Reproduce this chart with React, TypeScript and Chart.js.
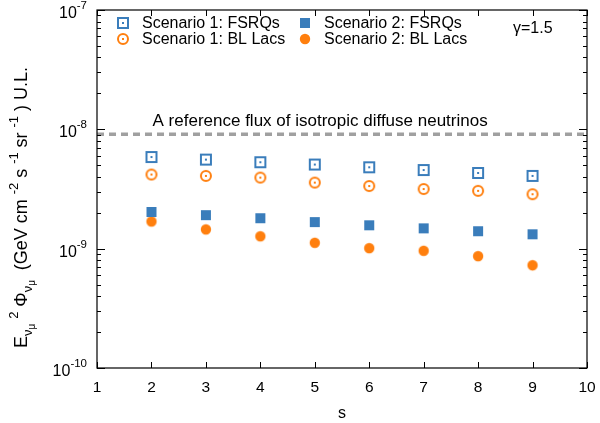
import React, { useEffect, useRef } from "react";
import { Chart, registerables } from "chart.js";

Chart.register(...registerables);

const sValues = [2, 3, 4, 5, 6, 7, 8, 9];
const s1Fsrqs = [5.86e-9, 5.58e-9, 5.3e-9, 5.07e-9, 4.81e-9, 4.56e-9, 4.31e-9, 4.07e-9];
const s1BlLacs = [4.18e-9, 4.07e-9, 3.94e-9, 3.58e-9, 3.35e-9, 3.16e-9, 3.05e-9, 2.86e-9];
const s2Fsrqs = [2.03e-9, 1.91e-9, 1.8e-9, 1.67e-9, 1.57e-9, 1.48e-9, 1.4e-9, 1.32e-9];
const s2BlLacs = [1.69e-9, 1.45e-9, 1.27e-9, 1.12e-9, 1.01e-9, 0.96e-9, 0.865e-9, 0.727e-9];
const s2BlLacsErrLow = [null, null, null, null, null, null, null, 0.66e-9];
const s2BlLacsErrHigh = [null, null, null, null, null, null, null, 0.79e-9];
const refFlux = 9.1e-9;
const refLabel = "A reference flux of isotropic diffuse neutrinos";
const xTicks = [1, 2, 3, 4, 5, 6, 7, 8, 9, 10];
const yDecades = [-10, -9, -8, -7];
const legendLabels = [
  "Scenario 1: FSRQs",
  "Scenario 1: BL Lacs",
  "Scenario 2: FSRQs",
  "Scenario 2: BL Lacs",
];
const gammaLabel = "γ=1.5";

const BLUE = "#3a7dbb";
const ORANGE = "#ff7f0e";
const FONT = "'Liberation Sans', Arial, sans-serif";

function makeMarker(kind: string): HTMLCanvasElement {
  const c = document.createElement("canvas");
  const size = 14;
  c.width = size;
  c.height = size;
  const g = c.getContext("2d")!;
  const m = size / 2;
  if (kind === "openSquare") {
    g.strokeStyle = BLUE;
    g.lineWidth = 2;
    g.strokeRect(2, 2, 10, 10);
    g.fillStyle = BLUE;
    g.fillRect(m - 1, m - 1, 2, 2);
  } else if (kind === "openCircle") {
    g.strokeStyle = ORANGE;
    g.lineWidth = 2;
    g.beginPath();
    g.arc(m, m, 5, 0, Math.PI * 2);
    g.stroke();
    g.fillStyle = ORANGE;
    g.fillRect(m - 1, m - 1, 2, 2);
  } else if (kind === "filledSquare") {
    g.fillStyle = BLUE;
    g.fillRect(2, 2, 10, 10);
  } else {
    g.fillStyle = ORANGE;
    g.beginPath();
    g.arc(m, m, 5.2, 0, Math.PI * 2);
    g.fill();
  }
  return c;
}

export default function App() {
  const ref = useRef<HTMLCanvasElement | null>(null);

  useEffect(() => {
    const canvas = ref.current;
    if (!canvas) return;
    const markers = {
      openSquare: makeMarker("openSquare"),
      openCircle: makeMarker("openCircle"),
      filledSquare: makeMarker("filledSquare"),
      filledCircle: makeMarker("filledCircle"),
    };

    const decorPlugin = {
      id: "decor",
      beforeDatasetsDraw(chart: any) {
        const ctx = chart.ctx;
        const x = chart.scales.x;
        const y = chart.scales.y;
        ctx.save();
        ctx.fillStyle = "#000";
        ctx.font = `17px ${FONT}`;
        ctx.textAlign = "left";
        ctx.textBaseline = "alphabetic";
        ctx.fillText(refLabel, x.getPixelForValue(2.02), y.getPixelForValue(refFlux) - 8);
        ctx.restore();
      },
      afterDatasetsDraw(chart: any) {
        const ctx = chart.ctx;
        const x = chart.scales.x;
        const y = chart.scales.y;
        const a = chart.chartArea;
        ctx.save();
        // error bars
        ctx.strokeStyle = ORANGE;
        ctx.lineWidth = 1.5;
        sValues.forEach((s, i) => {
          const lo = s2BlLacsErrLow[i];
          const hi = s2BlLacsErrHigh[i];
          if (lo == null || hi == null) return;
          const px = x.getPixelForValue(s);
          ctx.beginPath();
          ctx.moveTo(px, y.getPixelForValue(lo));
          ctx.lineTo(px, y.getPixelForValue(hi));
          ctx.stroke();
        });
        // frame
        ctx.strokeStyle = "#000";
        ctx.lineWidth = 1.2;
        ctx.strokeRect(a.left, a.top, a.right - a.left, a.bottom - a.top);
        // x ticks inward
        ctx.lineWidth = 1;
        xTicks.forEach((v) => {
          const px = Math.round(x.getPixelForValue(v)) + 0.5;
          ctx.beginPath();
          ctx.moveTo(px, a.bottom);
          ctx.lineTo(px, a.bottom - 6);
          ctx.moveTo(px, a.top);
          ctx.lineTo(px, a.top + 6);
          ctx.stroke();
        });
        // y ticks inward
        yDecades.forEach((d) => {
          for (let k = 1; k <= 9; k++) {
            if (d === -7 && k > 1) break;
            const v = k * Math.pow(10, d);
            const py = Math.round(y.getPixelForValue(v)) + 0.5;
            const len = k === 1 ? 8 : 4;
            ctx.beginPath();
            ctx.moveTo(a.left, py);
            ctx.lineTo(a.left + len, py);
            ctx.moveTo(a.right, py);
            ctx.lineTo(a.right - len, py);
            ctx.stroke();
          }
        });
        // y tick labels with superscripts
        ctx.fillStyle = "#000";
        ctx.textBaseline = "alphabetic";
        yDecades.forEach((d) => {
          const py = y.getPixelForValue(Math.pow(10, d));
          const sup = String(d);
          ctx.font = `11.5px ${FONT}`;
          const wSup = ctx.measureText(sup).width;
          ctx.font = `16px ${FONT}`;
          const wBase = ctx.measureText("10").width;
          const right = 87;
          ctx.textAlign = "left";
          ctx.fillText("10", right - wSup - wBase, py + 8);
          ctx.font = `11.5px ${FONT}`;
          ctx.fillText(sup, right - wSup, py - 1);
        });
        // y axis title
        type Seg = { t: string; size: number; dy: number; gap: boolean };
        const segs: Seg[] = [
          { t: "E", size: 18, dy: 0, gap: false },
          { t: "ν", size: 13, dy: 5, gap: false },
          { t: "μ", size: 10, dy: 8, gap: true },
          { t: "2", size: 13, dy: -9, gap: true },
          { t: "Φ", size: 18, dy: 0, gap: false },
          { t: "ν", size: 13, dy: 5, gap: false },
          { t: "μ", size: 10, dy: 8, gap: true },
          { t: " (GeV cm", size: 18, dy: 0, gap: true },
          { t: "-2", size: 13, dy: -9, gap: true },
          { t: "s", size: 18, dy: 0, gap: true },
          { t: "-1", size: 13, dy: -9, gap: true },
          { t: "sr", size: 18, dy: 0, gap: true },
          { t: "-1", size: 13, dy: -9, gap: true },
          { t: ") U.L.", size: 18, dy: 0, gap: false },
        ];
        let natural = 0;
        let nGaps = 0;
        segs.forEach((s) => {
          ctx.font = `${s.size}px ${FONT}`;
          natural += ctx.measureText(s.t).width;
          if (s.gap) nGaps++;
        });
        const titleStart = 348;
        const titleEnd = 67;
        const extra = Math.max(0, (titleStart - titleEnd - natural) / nGaps);
        ctx.save();
        ctx.translate(27, titleStart);
        ctx.rotate(-Math.PI / 2);
        let cx = 0;
        segs.forEach((s) => {
          ctx.font = `${s.size}px ${FONT}`;
          ctx.fillText(s.t, cx, s.dy);
          cx += ctx.measureText(s.t).width + (s.gap ? extra : 0);
        });
        ctx.restore();
        // legend
        const rows = [
          { m: markers.openSquare, x: 123, y: 23, label: legendLabels[0] },
          { m: markers.openCircle, x: 123, y: 39, label: legendLabels[1] },
          { m: markers.filledSquare, x: 305, y: 23, label: legendLabels[2] },
          { m: markers.filledCircle, x: 305, y: 39, label: legendLabels[3] },
        ];
        ctx.font = `16px ${FONT}`;
        ctx.textBaseline = "middle";
        ctx.textAlign = "left";
        rows.forEach((r) => {
          ctx.drawImage(r.m, r.x - 7, r.y - 7);
          ctx.fillText(r.label, r.x + 19, r.y + 1);
        });
        ctx.fillText(gammaLabel, 513, 29);
        ctx.restore();
      },
    };

    const chart = new Chart(canvas, {
      type: "scatter",
      data: {
        datasets: [
          {
            label: "ref",
            data: [
              { x: 1, y: refFlux },
              { x: 10, y: refFlux },
            ],
            showLine: true,
            borderColor: "#a0a0a0",
            borderWidth: 3.5,
            borderDash: [7, 5],
            pointRadius: 0,
          },
          {
            label: legendLabels[0],
            data: sValues.map((s, i) => ({ x: s, y: s1Fsrqs[i] })),
            pointStyle: markers.openSquare,
          },
          {
            label: legendLabels[1],
            data: sValues.map((s, i) => ({ x: s, y: s1BlLacs[i] })),
            pointStyle: markers.openCircle,
          },
          {
            label: legendLabels[2],
            data: sValues.map((s, i) => ({ x: s, y: s2Fsrqs[i] })),
            pointStyle: markers.filledSquare,
          },
          {
            label: legendLabels[3],
            data: sValues.map((s, i) => ({ x: s, y: s2BlLacs[i] })),
            pointStyle: markers.filledCircle,
          },
        ] as any,
      },
      options: {
        animation: false,
        responsive: false,
        layout: { padding: { left: 0, right: 13, top: 10, bottom: 0 } },
        plugins: { legend: { display: false }, tooltip: { enabled: false } },
        scales: {
          x: {
            type: "linear",
            min: 1,
            max: 10,
            afterBuildTicks: (scale: any) => {
              scale.ticks = xTicks.map((v) => ({ value: v }));
            },
            afterFit: (scale: any) => {
              scale.height = 55;
              scale.paddingLeft = 0;
              scale.paddingRight = 0;
            },
            ticks: {
              color: "#000",
              font: { family: FONT, size: 15.5 },
              padding: 10,
              maxRotation: 0,
            },
            grid: { display: false, drawTicks: false },
            border: { display: false },
            title: {
              display: true,
              text: "s",
              color: "#000",
              font: { family: FONT, size: 16 },
              padding: { top: 1, bottom: 0 },
            },
          },
          y: {
            type: "logarithmic",
            min: 1e-10,
            max: 1e-7,
            afterFit: (scale: any) => {
              scale.width = 97;
              scale.paddingTop = 0;
              scale.paddingBottom = 0;
            },
            ticks: { display: false },
            grid: { display: false, drawTicks: false },
            border: { display: false },
          },
        },
      } as any,
      plugins: [decorPlugin],
    });
    return () => chart.destroy();
  }, []);

  return (
    <div style={{ position: "fixed", left: 0, top: 0, width: 600, height: 423, background: "#fff" }}>
      <canvas ref={ref} width={600} height={423} style={{ width: 600, height: 423, display: "block" }} />
    </div>
  );
}
